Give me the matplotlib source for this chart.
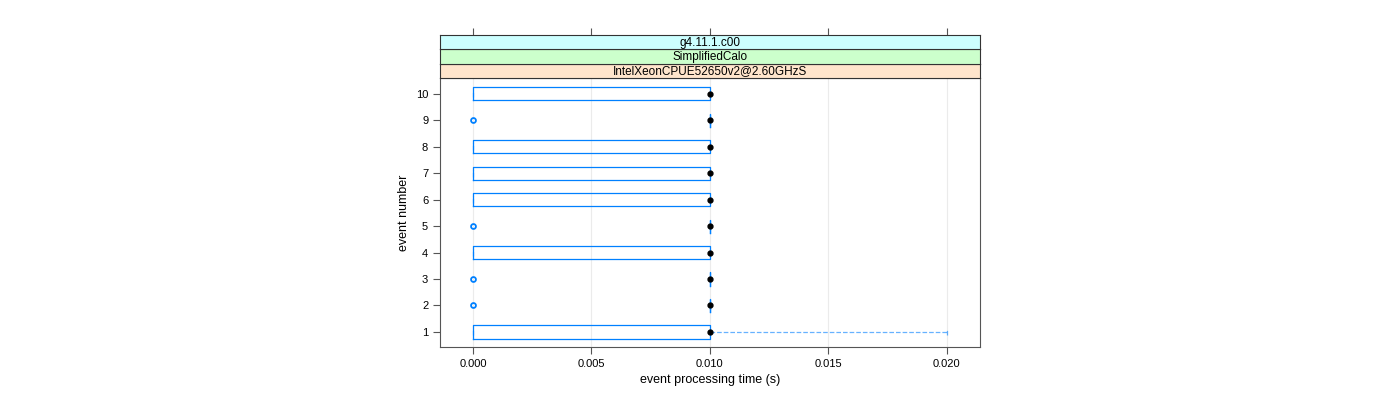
import matplotlib
matplotlib.use("Agg")
import matplotlib.pyplot as plt
import numpy as np

plt.rcParams['font.family'] = ['Liberation Sans', 'DejaVu Sans']

# box statistics per event (seconds)
events = [1, 2, 3, 4, 5, 6, 7, 8, 9, 10]
q1 = [0.0, 0.01, 0.01, 0.0, 0.01, 0.0, 0.0, 0.0, 0.01, 0.0]
med = [0.01, 0.01, 0.01, 0.01, 0.01, 0.01, 0.01, 0.01, 0.01, 0.01]
q3 = [0.01, 0.01, 0.01, 0.01, 0.01, 0.01, 0.01, 0.01, 0.01, 0.01]
whislo = [0.0, 0.01, 0.01, 0.0, 0.01, 0.0, 0.0, 0.0, 0.01, 0.0]
whishi = [0.02, 0.01, 0.01, 0.01, 0.01, 0.01, 0.01, 0.01, 0.01, 0.01]
outliers = [[], [0.0], [0.0], [], [0.0], [], [], [], [0.0], []]

strips = ['g4.11.1.c00', 'SimplifiedCalo', 'IntelXeonCPUE52650v2@2.60GHzS']
strip_colors = ['#ccffff', '#ccffcc', '#ffe5cc']
xticks = [0.0, 0.005, 0.010, 0.015, 0.020]

blue = '#0080ff'
fig = plt.figure(figsize=(14, 4), dpi=100)
ax = fig.add_axes([440/1400, 53/400, 540/1400, 269/400])

stats = []
for i in range(len(events)):
    stats.append(dict(q1=q1[i], med=med[i], q3=q3[i], whislo=whislo[i],
                      whishi=whishi[i], fliers=outliers[i], label=str(events[i])))
ax.bxp(stats, positions=events, orientation='horizontal', widths=0.5,
       boxprops=dict(color=blue, linewidth=0.9),
       whiskerprops=dict(color=blue, linestyle='--', linewidth=0.9, alpha=0.6),
       capprops=dict(color=blue, linestyle='--', linewidth=0.9, alpha=0.6),
       capwidths=0.25,
       medianprops=dict(linewidth=0),
       flierprops=dict(marker='o', markersize=3.5, markerfacecolor='none',
                       markeredgecolor=blue, markeredgewidth=1.3))
ax.plot(med, events, 'o', color='black', markersize=3.5, zorder=5)

ax.set_xlim(-0.00139, 0.0214)
ax.set_ylim(0.43, 10.6)
ax.set_xticks(xticks)
ax.set_xticklabels(['%.3f' % v for v in xticks])
ax.set_yticks(events)
ax.set_yticklabels([str(e) for e in events])
for v in xticks:
    ax.axvline(v, color='#ebebeb', linewidth=0.8, zorder=0)
ax.tick_params(labelsize=8, direction='out', length=5, color='#555555', width=0.8)
for s in ax.spines.values():
    s.set_color('#555555')
ax.set_xlabel('event processing time (s)', fontsize=9)
ax.set_ylabel('event number', fontsize=9)

# strips
h = 14.3
for k, (txt, c) in enumerate(zip(reversed(strips), reversed(strip_colors))):
    sa = fig.add_axes([440/1400, (322 + k*h)/400, 540/1400, h/400])
    sa.set_facecolor(c)
    sa.set_xlim(ax.get_xlim())
    sa.set_yticks([])
    sa.set_xticks([])
    sa.text(0.5, 0.45, txt, transform=sa.transAxes, ha='center', va='center', fontsize=8.5)
    if k == len(strips) - 1:
        sa.set_xticks(xticks)
        sa.tick_params(top=True, bottom=False, labeltop=False, labelbottom=False,
                       direction='out', length=5, color='#555555', width=0.8)
    for s in sa.spines.values():
        s.set_color('#333333')
        s.set_linewidth(0.8)

fig.savefig('out.png', dpi=100)
